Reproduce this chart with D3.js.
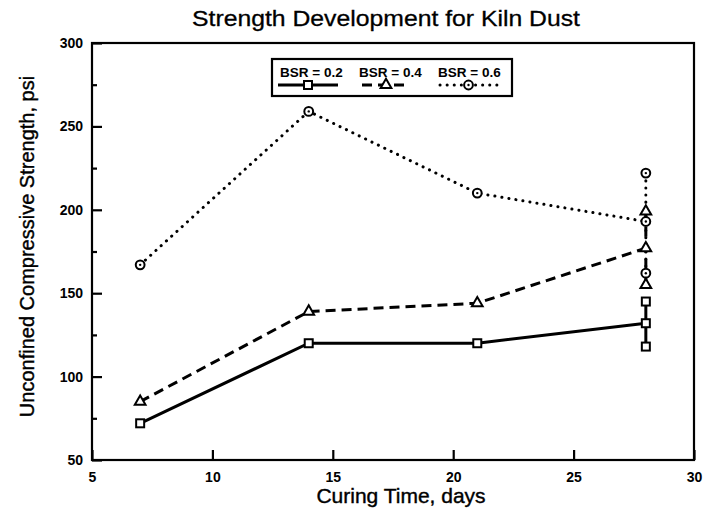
<!DOCTYPE html>
<html>
<head>
<meta charset="utf-8">
<script src="https://cdn.jsdelivr.net/npm/d3@7/dist/d3.min.js"></script>
<style>
  html, body { margin: 0; padding: 0; background: #fff; }
  svg { display: block; font-family: "Liberation Sans", Arial, Helvetica, sans-serif; }
</style>
</head>
<body>
<svg id="chart" width="704" height="513"></svg>
<script>
// Curing time (days) and mean unconfined compressive strength (psi)
const days = [7, 14, 21, 28];
const bsr02 = [72, 120, 120, 132];
const bsr04 = [85, 139, 144, 177];
const bsr06 = [167, 259, 210, 193];
// Spread of the 28-day specimens: [low, high]
const spread02 = [118, 145];
const spread04 = [155, 199];
const spread06 = [162, 222];
const seriesNames = ["BSR = 0.2", "BSR = 0.4", "BSR = 0.6"];
const xTicks = [5, 10, 15, 20, 25, 30];
const yTicks = [50, 100, 150, 200, 250, 300];
const yMinorTicks = [75, 125, 175, 225, 275];

const series = [
  { name: seriesNames[0], values: bsr02, spread: spread02, marker: "square", dash: null },
  { name: seriesNames[1], values: bsr04, spread: spread04, marker: "triangle", dash: "10,6" },
  { name: seriesNames[2], values: bsr06, spread: spread06, marker: "circle", dash: "0.1,7" }
];

const svg = d3.select("#chart");
const plotL = 92, plotR = 694, plotT = 43, plotB = 460;
const x = d3.scaleLinear().domain([5, 30]).range([plotL, plotR]);
const y = d3.scaleLinear().domain([50, 300]).range([plotB, plotT]);

// Title
svg.append("text")
  .attr("x", 386).attr("y", 26)
  .attr("text-anchor", "middle")
  .attr("font-size", 22)
  .attr("stroke", "#000").attr("stroke-width", 0.3)
  .attr("textLength", 388).attr("lengthAdjust", "spacingAndGlyphs")
  .text("Strength Development for Kiln Dust");

// Axes with inward ticks
const xAxis = svg.append("g")
  .attr("transform", `translate(0,${plotB})`)
  .call(d3.axisBottom(x).tickValues(xTicks).tickFormat(d3.format("d"))
    .tickSizeInner(-10).tickSizeOuter(0).tickPadding(12));
const yAxis = svg.append("g")
  .attr("transform", `translate(${plotL},0)`)
  .call(d3.axisLeft(y).tickValues(yTicks).tickFormat(d3.format("d"))
    .tickSizeInner(-10).tickSizeOuter(0).tickPadding(9));
svg.append("g")
  .attr("transform", `translate(${plotL},0)`)
  .call(d3.axisLeft(y).tickValues(yMinorTicks).tickFormat("")
    .tickSizeInner(-5).tickSizeOuter(0))
  .call(g => g.select(".domain").remove());

[xAxis, yAxis].forEach(g => {
  g.select(".domain").remove();
  g.selectAll(".tick text")
    .attr("fill", "#000")
    .attr("font-size", 14)
    .attr("font-weight", "bold")
    .attr("font-family", "\"Liberation Sans\", Arial, sans-serif");
});
svg.selectAll(".tick line").attr("stroke", "#000").attr("stroke-width", 2.2);

// Plot frame
svg.append("rect")
  .attr("x", plotL).attr("y", plotT)
  .attr("width", plotR - plotL).attr("height", plotB - plotT)
  .attr("fill", "none").attr("stroke", "#000").attr("stroke-width", 2.2);

// Axis titles
svg.append("text")
  .attr("x", 401).attr("y", 503)
  .attr("text-anchor", "middle")
  .attr("font-size", 21)
  .attr("stroke", "#000").attr("stroke-width", 0.4)
  .text("Curing Time, days");
svg.append("text")
  .attr("transform", `translate(34,${(plotT + plotB) / 2 - 5}) rotate(-90)`)
  .attr("text-anchor", "middle")
  .attr("font-size", 20)
  .attr("stroke", "#000").attr("stroke-width", 0.4)
  .text("Unconfined Compressive Strength, psi");

function styleLine(sel, dash) {
  sel.attr("fill", "none").attr("stroke", "#000").attr("stroke-width", 3)
    .attr("stroke-linecap", dash && dash.startsWith("0.1") ? "round" : "butt");
  if (dash) sel.attr("stroke-dasharray", dash);
  return sel;
}

function drawMarker(g, type, cx, cy) {
  const m = g.append("g").attr("transform", `translate(${cx},${cy})`);
  if (type === "square") {
    m.append("rect").attr("x", -4).attr("y", -4).attr("width", 8).attr("height", 8)
      .attr("fill", "#fff").attr("stroke", "#000").attr("stroke-width", 2);
  } else if (type === "triangle") {
    m.append("path").attr("d", d3.symbol(d3.symbolTriangle, 50)())
      .attr("fill", "#fff").attr("stroke", "#000").attr("stroke-width", 2);
  } else {
    m.append("circle").attr("r", 4.4)
      .attr("fill", "#fff").attr("stroke", "#000").attr("stroke-width", 2);
    m.append("circle").attr("r", 1.2).attr("fill", "#000");
  }
}

const line = d3.line().x(d => x(d[0])).y(d => y(d[1]));
const plot = svg.append("g");

series.forEach(s => {
  const pts = days.map((d, i) => [d, s.values[i]]);
  styleLine(plot.append("path").attr("d", line(pts)), s.dash);
  // vertical spread of the 28-day results
  const last = days[days.length - 1];
  styleLine(plot.append("path").attr("d", line([[last, s.spread[0]], [last, s.spread[1]]])), s.dash);
});

series.forEach(s => {
  const last = days[days.length - 1];
  days.forEach((d, i) => drawMarker(plot, s.marker, x(d), y(s.values[i])));
  s.spread.forEach(v => drawMarker(plot, s.marker, x(last), y(v)));
});

// Legend
const legend = svg.append("g");
legend.append("rect")
  .attr("x", 272).attr("y", 59).attr("width", 240).attr("height", 37)
  .attr("fill", "#fff").attr("stroke", "#000").attr("stroke-width", 2.2);
const legendX = [280, 359, 438];
const sampleSpan = [[278, 338], [362, 410], [440, 497]];
series.forEach((s, i) => {
  legend.append("text")
    .attr("x", legendX[i]).attr("y", 77)
    .attr("font-size", 13.5)
    .attr("font-weight", "bold")
    .text(s.name);
  const [a, b] = sampleSpan[i];
  styleLine(legend.append("path").attr("d", `M${a},85H${b}`), s.dash);
  drawMarker(legend, s.marker, (a + b) / 2, 85);
});
</script>
</body>
</html>
